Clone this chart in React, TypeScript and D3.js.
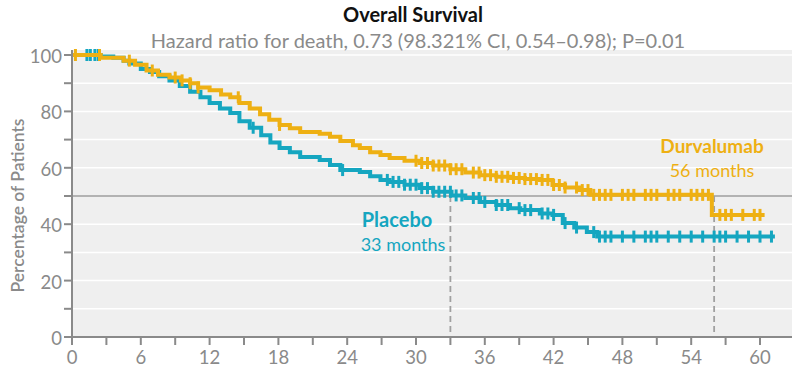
import * as d3 from "d3";

// Kaplan-Meier steps: [month, percent surviving]
const durvalumab: [number, number][] = [
  [0, 100], [2.5, 99], [4.5, 98], [5.5, 96.5], [6.5, 94.5], [7.5, 93], [8.5, 92],
  [9.5, 91], [10.3, 90], [11, 88.5], [12, 87.5], [13, 86], [13.8, 85], [14.6, 83],
  [15.5, 81], [16.4, 79], [17.2, 77], [18.1, 75.2], [19, 74], [19.9, 72.7],
  [21.6, 72.1], [22.5, 71], [23.4, 69.5], [24.5, 68], [25.1, 67], [26, 65.5],
  [26.9, 64.5], [27.7, 63.5], [29, 62.5], [30.3, 61.7], [31.5, 60.8], [33, 59.5],
  [34.3, 58.3], [35.6, 57.4], [37, 56.8], [38.2, 56.4], [39.5, 56], [40.8, 55.7],
  [41.9, 53.9], [43, 53], [44.3, 52.1], [45.2, 50.4], [55.8, 43.3], [60.4, 43.3],
];

const placebo: [number, number][] = [
  [0, 100], [2.5, 99.5], [3.6, 99], [4.5, 98], [5, 97], [6, 95], [6.8, 94],
  [7.6, 92.5], [8.5, 91], [9.4, 89], [10.3, 87], [11.2, 85], [12, 83], [12.9, 81],
  [13.8, 79.4], [14.6, 76.5], [15.5, 74.2], [16.5, 71.5], [17.3, 69], [18.1, 67],
  [19, 65.5], [19.9, 63.8], [21.6, 62.8], [22.5, 61], [23.4, 59.2], [25.1, 58.5],
  [26, 57], [26.9, 55.7], [27.7, 55], [29, 54], [30.3, 52.8], [31.5, 51.5],
  [33.1, 50.2], [34.3, 49.3], [35.6, 47.9], [37, 46.8], [38.2, 45.7], [39.1, 45],
  [40.8, 43.8], [41.9, 43.3], [42.8, 40.4], [43.8, 38.8], [44.9, 37.2],
  [45.8, 35.6], [61.3, 35.6],
];

// censoring marks (months)
const durvaCensor = [
  0.3, 2.4, 5, 7, 9, 9.6, 10.3, 11, 14.5, 18.1, 30, 30.5, 31, 31.5, 32, 32.5, 33,
  33.5, 34, 35, 35.5, 36, 36.5, 37, 37.5, 38, 38.5, 39, 39.5, 40, 40.5, 41, 41.5,
  42, 42.5, 43, 44, 44.5, 45, 45.5, 46, 46.5, 47, 48, 48.5, 49, 50, 50.5, 51, 52,
  52.5, 53, 54, 54.5, 55, 55.5, 56.5, 57, 57.5, 58.5, 59.5, 60,
];

const placeboCensor = [
  1.3, 1.6, 2, 2.3, 15.8, 23.6, 27.5, 28, 28.5, 29, 29.5, 30, 30.5, 31, 31.5, 32,
  32.5, 33, 33.5, 34, 35, 35.5, 36, 37, 37.5, 38, 39, 39.5, 40, 41, 41.5, 42, 43,
  44, 45.5, 46, 46.5, 47, 48, 49, 50, 50.5, 51, 52, 53, 54, 55, 56, 56.5, 57, 58,
  59, 60, 61,
];

const xTicks = d3.range(0, 61, 3);
const xLabels = d3.range(0, 61, 6);
const yTicks = d3.range(0, 101, 10);
const yLabels = [0, 20, 40, 60, 80, 100];
const medianMonths = [33, 56];

const ORANGE = "#eeb013";
const TEAL = "#15a6c0";
const GRAY = "#8a8a8a";
const FONT = "Lato, 'Open Sans', sans-serif";

const x = d3.scaleLinear().domain([0, 60]).range([72, 760]);
const y = d3.scaleLinear().domain([0, 100]).range([337, 55]);

const stepLine = d3
  .line<[number, number]>()
  .x((d) => x(d[0]))
  .y((d) => y(d[1]))
  .curve(d3.curveStepAfter);

const valueAt = (series: [number, number][], t: number) => {
  const i = d3.bisector((d: [number, number]) => d[0]).right(series, t) - 1;
  return series[Math.max(0, i)][1];
};

const Curve = ({
  series,
  censor,
  color,
}: {
  series: [number, number][];
  censor: number[];
  color: string;
}) => (
  <g>
    <path d={stepLine(series) || ""} fill="none" stroke={color} strokeWidth={4} />
    {censor.map((t, i) => (
      <line
        key={i}
        x1={x(t)}
        x2={x(t)}
        y1={y(valueAt(series, t)) - 6}
        y2={y(valueAt(series, t)) + 6}
        stroke={color}
        strokeWidth={3}
      />
    ))}
  </g>
);

export default function App() {
  const left = x(0);
  const right = 792;
  const top = 50;
  const bottom = y(0);
  return (
    <svg
      width={800}
      height={374}
      style={{ position: "absolute", left: 0, top: 0, background: "#fff" }}
      fontFamily={FONT}
    >
      {/* panel */}
      <rect x={left} y={top} width={right - left} height={bottom - top} fill="#efefef" />
      {yTicks.map((t) => (
        <line key={t} x1={left} x2={right} y1={y(t)} y2={y(t)} stroke="#fff" strokeWidth={1.5} />
      ))}
      <line x1={left} x2={right} y1={y(50)} y2={y(50)} stroke="#9a9a9a" strokeWidth={1.5} />

      {/* median markers */}
      {medianMonths.map((m) => (
        <line
          key={m}
          x1={x(m)}
          x2={x(m)}
          y1={y(50)}
          y2={bottom}
          stroke="#a0a0a0"
          strokeWidth={1.8}
          strokeDasharray="6,4"
        />
      ))}

      <Curve series={placebo} censor={placeboCensor} color={TEAL} />
      <Curve series={durvalumab} censor={durvaCensor} color={ORANGE} />

      {/* axes */}
      <line x1={left} x2={left} y1={top} y2={bottom + 1} stroke={GRAY} strokeWidth={2} />
      <line x1={left - 1} x2={right} y1={bottom} y2={bottom} stroke={GRAY} strokeWidth={2} />
      {yTicks.map((t) => (
        <line key={t} x1={left - 8} x2={left} y1={y(t)} y2={y(t)} stroke={GRAY} strokeWidth={2} />
      ))}
      {yLabels.map((t) => (
        <text
          key={t}
          x={left - 10}
          y={y(t) + 1}
          textAnchor="end"
          dominantBaseline="central"
          fontSize={18.5}
          fill={GRAY}
        >
          {t}
        </text>
      ))}
      {xTicks.map((t) => (
        <line key={t} x1={x(t)} x2={x(t)} y1={bottom} y2={bottom + 8} stroke={GRAY} strokeWidth={2} />
      ))}
      {xLabels.map((t) => (
        <text key={t} x={x(t)} y={364} textAnchor="middle" fontSize={18.5} fill={GRAY}>
          {t}
        </text>
      ))}
      <text
        transform={`translate(24,${(top + bottom) / 2 + 12}) rotate(-90)`}
        textAnchor="middle"
        fontSize={17.5}
        fontWeight={600}
        fill={GRAY}
      >
        Percentage of Patients
      </text>

      {/* titles */}
      <text x={413} y={22} textAnchor="middle" fontSize={20} fontWeight={700} fill="#111">
        Overall Survival
      </text>
      <text x={418} y={48} textAnchor="middle" fontSize={20} fill={GRAY}>
        Hazard ratio for death, 0.73 (98.321% CI, 0.54–0.98); P=0.01
      </text>

      {/* series labels */}
      <text x={712} y={153} textAnchor="middle" fontSize={19} fontWeight={700} fill={ORANGE}>
        Durvalumab
      </text>
      <text x={712} y={177} textAnchor="middle" fontSize={18} fill={ORANGE}>
        56 months
      </text>
      <text x={397} y={227} textAnchor="middle" fontSize={20} fontWeight={700} fill={TEAL}>
        Placebo
      </text>
      <text x={403} y={251} textAnchor="middle" fontSize={18} fill={TEAL}>
        33 months
      </text>
    </svg>
  );
}
